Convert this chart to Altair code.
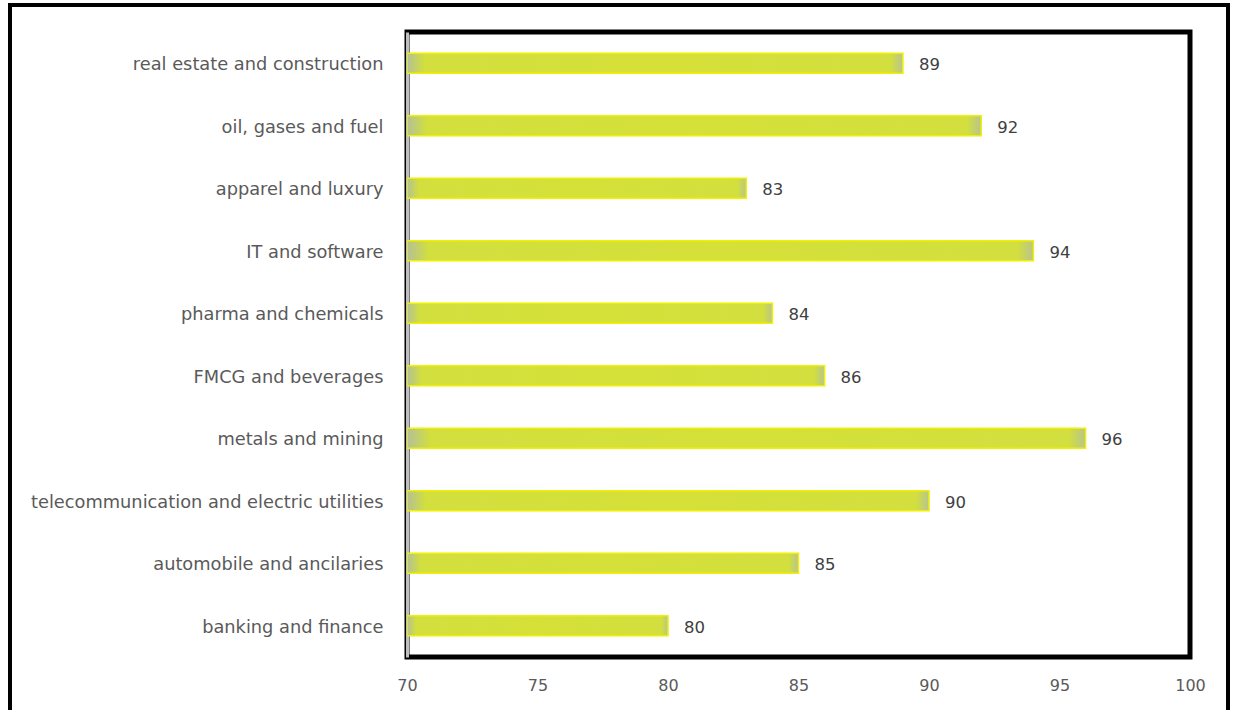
import altair as alt
import pandas as pd

categories = [
    "real estate and construction",
    "oil, gases and fuel",
    "apparel and luxury",
    "IT and software",
    "pharma and chemicals",
    "FMCG and beverages",
    "metals and mining",
    "telecommunication and electric utilities",
    "automobile and ancilaries",
    "banking and finance",
]
values = [89, 92, 83, 94, 84, 86, 96, 90, 85, 80]
x_ticks = [70, 75, 80, 85, 90, 95, 100]

df = pd.DataFrame({"category": categories, "value": values})

FONT = "DejaVu Sans"
W, H = 783, 625

grad = alt.LinearGradient(
    gradient="linear",
    stops=[
        alt.GradientStop(color="#b3c098", offset=0.0),
        alt.GradientStop(color="#d2df3e", offset=0.035),
        alt.GradientStop(color="#d5e138", offset=0.5),
        alt.GradientStop(color="#d2df3e", offset=0.975),
        alt.GradientStop(color="#b8c48e", offset=1.0),
    ],
    x1=0, x2=1, y1=0, y2=0,
)

y_enc = alt.Y(
    "category:N",
    sort=categories,
    scale=alt.Scale(paddingInner=0.68, paddingOuter=0.34),
    axis=alt.Axis(
        title=None, ticks=False, domain=True, domainColor="#bfbfbf",
        domainWidth=3, labelFont=FONT, labelFontSize=17.8, labelColor="#5a5a5a",
        labelPadding=24, labelLimit=500, labelOffset=2,
    ),
)
x_enc = alt.X(
    "value:Q",
    scale=alt.Scale(domain=[70, 100], clamp=True),
    axis=alt.Axis(
        title=None, values=x_ticks, ticks=False, domain=False, grid=False,
        labelFlush=False,
        labelFont=FONT, labelFontSize=16, labelColor="#5a5a5a", labelPadding=20,
    ),
)

bars = alt.Chart(df).mark_bar(
    color=grad, stroke="#f0f000", strokeWidth=1.5, clip=True,
).encode(x=x_enc, y=y_enc)

labels = alt.Chart(df).mark_text(
    align="left", baseline="middle", dx=16, dy=2, font=FONT, fontSize=16.5, color="#404040",
).encode(x="value:Q", y=alt.Y("category:N", sort=categories), text="value:Q")

outer = alt.Chart(pd.DataFrame({"a": [0]})).mark_rect(
    fill=None, stroke="black", strokeWidth=4, clip=False,
).encode(
    x=alt.value(-397), x2=alt.value(821), y=alt.value(-27), y2=alt.value(720),
)

chart = alt.layer(outer, bars, labels).properties(
    width=W, height=H,
    autosize=alt.AutoSizeParams(type="none"),
    padding={"left": 407, "top": 32, "right": 44, "bottom": 53},
    background="white",
).configure_view(
    stroke="black", strokeWidth=5,
)

chart.save("out.html", embed_options={"renderer": "svg", "actions": False})
